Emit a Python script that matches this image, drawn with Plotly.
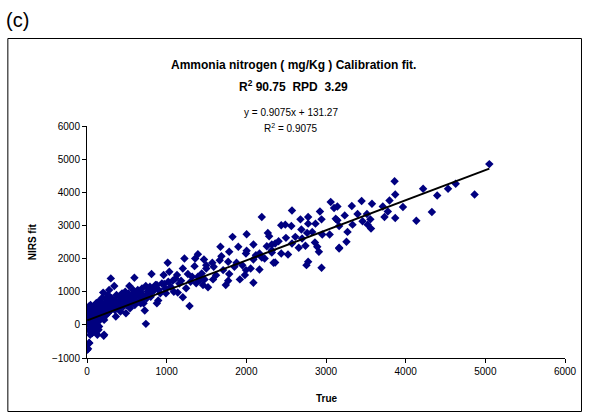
import plotly.graph_objects as go

# ---- data ----
true_vals = [
    5, 10, 15, 20, 22, 25, 30, 35, 40, 42, 45, 50, 55, 60, 65, 67, 70, 75, 80, 85, 90, 95, 100, 105, 110,
    115, 120, 125, 130, 135, 140, 145, 150, 152, 155, 160, 165, 170, 172, 175, 180, 185, 190, 195, 200,
    203, 205, 210, 215, 215, 220, 225, 230, 235, 240, 245, 250, 255, 260, 265, 270, 278, 280, 285, 290,
    299, 300, 4, 13, 25, 29, 67, 109, 130, 4, 25,
    310, 320, 330, 342, 350, 355, 362, 362, 370, 380, 390, 400, 410, 420, 430, 440, 447, 455, 460, 470,
    480, 489, 495, 500, 510, 520, 532, 532, 540, 550, 560, 570, 580, 590, 595, 600, 610, 620, 637, 645,
    658, 665, 675, 675, 680, 690, 700,
    710, 725, 738, 739, 750, 759, 770, 790, 800, 810, 820, 843, 860, 877, 877, 894, 900, 920, 940, 962,
    970, 980, 991, 1013, 1020, 1033, 1050, 1076, 1090, 1110, 1130, 1139, 1160, 1181, 1203, 1203, 1223,
    1244, 1266, 1287, 1300, 1320, 1350, 1358, 1371, 1392, 1392, 1420, 1440, 1456, 1468, 1476, 1497, 1497,
    1519, 1573, 1582, 1590, 1620, 1666, 1675, 1687, 1709, 1742, 1772, 1772, 1785, 1785, 1827, 1850, 1877,
    1899, 1919, 1950, 1982, 1995, 1995, 2004, 2004, 2054, 2089, 2089, 2089, 2120, 2165, 2165, 2194, 2194,
    2230, 2257, 2270, 2286, 2320, 2320, 2320, 2342, 2362, 2362, 2405,
    2438, 2438, 2489, 2497, 2523, 2565, 2573, 2573, 2615, 2658, 2679, 2691, 2700, 2742, 2755, 2763, 2776,
    2776, 2776, 2827, 2861, 2868, 2890, 2911, 2924, 2944, 2944, 2953, 3046, 3059, 3101, 3122, 3165, 3143,
    3143, 3165, 3165,
    3235, 3257, 3270, 3324, 3333, 3396, 3447, 3459, 3514, 3523, 3557, 3565, 3577, 3713, 3734, 3776, 3797,
    3861, 3869, 3869, 3966, 4134, 4219, 4329, 4396, 4532, 4628, 4865, 5050,
]
nirs_fit = [
    250, 100, 380, -150, 450, 0, 520, 200, -300, 300, 600, 150, -100, 400, 250, 471, -200, 50, 350, 550,
    100, 300, -50, 480, 200, 650, 380, 100, 673, 250, 450, -150, 550, -48, 300, 700, 150, 420, 300, 600,
    250, 800, 480, 350, 550, 973, 200, -330, 150, -300, 650, 400, 500, 802, 300, 700, 450, 600, 350, 900,
    550, 1051, 400, 700, 600, 1402, 450, -750, -720, -550, -550, -249, -168, -300, 252, 553,
    800, 550, 650, 1171, 450, 750, 652, 252, 900, 600, 500, 700, 850, 400, 650, 950, 751, 550, 800, 700,
    1000, 351, 600, 850, 700, 950, 1171, 772, 500, 800, 650, 900, 1050, 750, 1423, 600, 850, 950, 1051, 700,
    853, 1000, 652, 853, 750, 1100, 900,
    650, 432, 1171, 30, 800, 1003, 950, 1150, 850, 1532, 1000, 1051, 1200, 652, 1201, 733, 1050, 950, 1250,
    1502, 1231, 1100, 952, 1874, 1300, 1604, 1150, 1333, 1000, 1400, 1502, 973, 1250, 1333, 1703, 832, 2003,
    1102, 1532, 571, 1300, 1450, 1772, 2003, 1252, 2132, 1453, 1350, 1550, 1201, 1973, 1372, 1802, 1703,
    1132, 1874, 1372, 1754, 1500, 1952, 2354, 2072, 1652, 1201, 1904, 1333, 2204, 1532, 2655, 1750, 1874,
    2354, 1372, 1800, 1502, 2153, 1652, 2733, 2234, 1703, 2424, 1973, 1273, 2100, 2153, 1673, 3255, 2033,
    2000, 2373, 2775, 2673, 2252, 2424, 2183, 1874, 2453, 1883, 2523,
    3003, 2153, 3024, 2625, 2123, 2985, 3453, 2453, 2655, 2324, 3183, 2874, 2604, 2384, 1802, 2775, 3255,
    3054, 1904, 2805, 2484, 3054, 2354, 2204, 3423, 3183, 1724, 2724, 2724, 3705, 3525, 3204, 2303, 3153,
    3574, 2985, 2324,
    3303, 2505, 2805, 3586, 3024, 3345, 3736, 3123, 3345, 3024, 3183, 2904, 3655, 3574, 3255, 3423, 3754,
    4336, 3934, 3225, 3555, 3144, 4105, 3405, 3904, 4105, 4255, 3934, 4850,
]
slope = 0.9075
intercept = 131.27
x_ticks = [0, 1000, 2000, 3000, 4000, 5000, 6000]
y_ticks = [-1000, 0, 1000, 2000, 3000, 4000, 5000, 6000]

# ---- layout geometry (pixels) ----
W, H = 589, 420
L, R, T, B = 86.7, 565.0, 126.0, 358.0


def px(xp):
    return (xp - L) / (R - L)


def py(yp):
    return (B - yp) / (B - T)


FONT = "Liberation Sans, Arial, sans-serif"

fig = go.Figure()
fig.add_trace(go.Scatter(
    x=true_vals, y=nirs_fit, mode="markers",
    marker=dict(symbol="diamond", size=6.5, color="#000080", line=dict(width=0)),
    showlegend=False, hoverinfo="x+y",
))
xmin, xmax = min(true_vals), max(true_vals)
fig.add_trace(go.Scatter(
    x=[xmin, xmax], y=[slope * xmin + intercept, slope * xmax + intercept],
    mode="lines", line=dict(color="black", width=2), showlegend=False, hoverinfo="skip",
))

axis_common = dict(
    showgrid=False, zeroline=False, showline=True, linecolor="black", linewidth=1,
    ticks="outside", ticklen=4, tickcolor="black", tickwidth=1,
    tickfont=dict(family=FONT, size=10, color="black"),
)
fig.update_layout(
    width=W, height=H,
    margin=dict(l=L, r=W - R, t=T, b=H - B),
    paper_bgcolor="white", plot_bgcolor="white",
    font=dict(family=FONT, color="black"),
    xaxis=dict(range=[0, 6000], tickvals=x_ticks, **axis_common),
    yaxis=dict(range=[-1000, 6000], tickvals=y_ticks, **axis_common),
)

annots = [
    dict(text="(c)", x=px(4), y=py(20), xanchor="left", yanchor="middle", font=dict(size=20)),
    dict(text="<b>Ammonia nitrogen ( mg/Kg ) Calibration fit.</b>", x=px(293), y=py(65),
         xanchor="center", yanchor="middle", font=dict(size=12)),
    dict(text="<b>R<sup>2</sup> 90.75  RPD  3.29</b>", x=px(293), y=py(86),
         xanchor="center", yanchor="middle", font=dict(size=12)),
    dict(text="y = 0.9075x + 131.27", x=px(291), y=py(113),
         xanchor="center", yanchor="middle", font=dict(size=10)),
    dict(text="R<sup>2</sup> = 0.9075", x=px(291), y=py(128),
         xanchor="center", yanchor="middle", font=dict(size=10)),
    dict(text="<b>NIRS fit</b>", x=px(32), y=py(242), textangle=-90,
         xanchor="center", yanchor="middle", font=dict(size=10)),
    dict(text="<b>True</b>", x=px(327), y=py(398),
         xanchor="center", yanchor="middle", font=dict(size=10)),
]
for a in annots:
    a.update(xref="paper", yref="paper", showarrow=False)
    a["text"] = a["text"].replace("  ", "&nbsp; ")
fig.update_layout(annotations=annots)

fig.add_shape(type="rect", xref="paper", yref="paper",
              x0=px(7.5), x1=px(581.5), y0=py(411.5), y1=py(38.5),
              line=dict(color="black", width=1), fillcolor="rgba(0,0,0,0)")

fig.write_html("out.html")
